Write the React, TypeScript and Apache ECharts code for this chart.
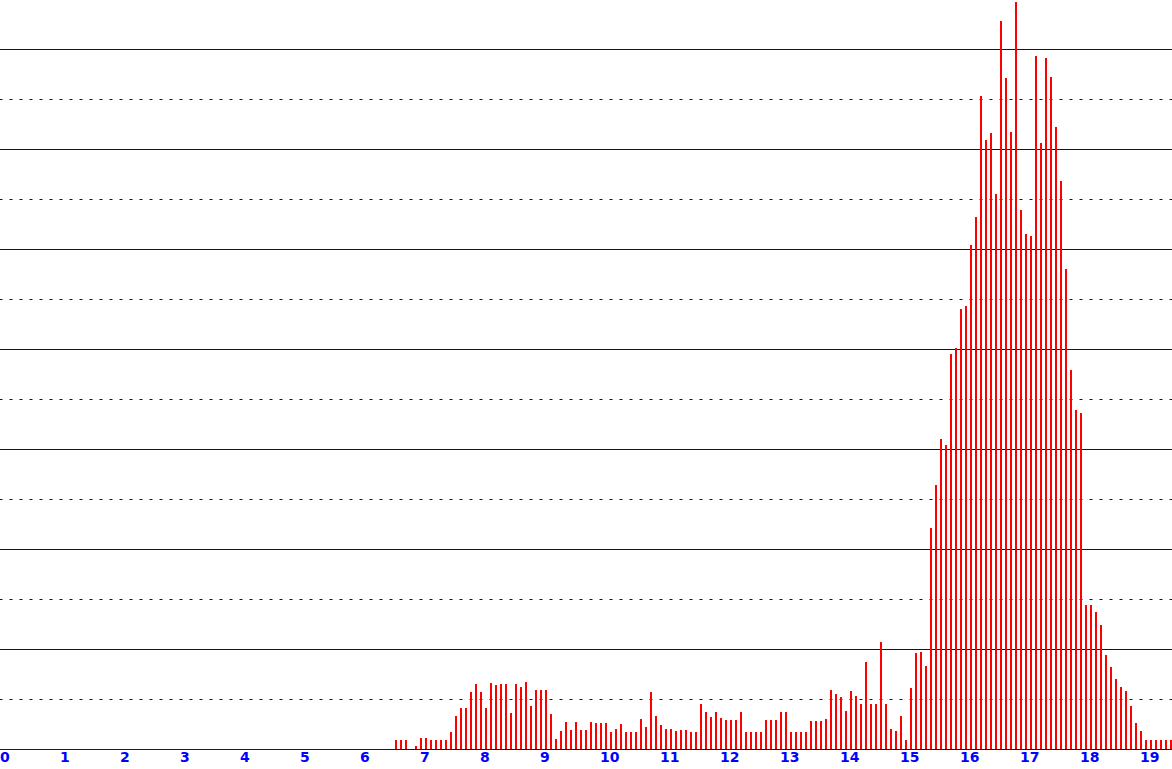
import React, { useEffect, useRef } from "react";
import * as echarts from "echarts";

// Histogram bins: width 1/12, first bin starts at 6.5
const BIN_START = 6.5;
const BIN_WIDTH = 1 / 12;

// Bar heights (one per bin, from 6.5 upward)
const counts: number[] = [
  9, 9, 9, 0, 3, 11, 11, 9, 9, 9, 9, 17,
  33, 41, 41, 57, 65, 57, 41, 66, 64, 65, 65, 36,
  65, 62, 67, 43, 59, 59, 59, 35, 10, 18, 27, 19,
  27, 19, 19, 27, 26, 26, 26, 17, 20, 25, 17, 17,
  17, 30, 22, 57, 33, 24, 20, 20, 18, 19, 19, 17,
  17, 45, 37, 32, 37, 31, 29, 29, 29, 37, 17, 17,
  17, 17, 29, 29, 29, 37, 37, 17, 17, 17, 17, 28,
  28, 28, 30, 59, 55, 52, 38, 58, 53, 45, 87, 45,
  45, 107, 45, 20, 18, 33, 9, 61, 96, 97, 83, 221,
  264, 310, 304, 395, 401, 440, 443, 504, 532, 653, 609, 616,
  555, 728, 671, 617, 747, 539, 515, 513, 693, 606, 691, 672,
  622, 568, 480, 379, 339, 336, 144, 144, 137, 124, 94, 82,
  70, 62, 58, 43, 26, 18, 9, 9, 9, 9, 9, 9,
];

// Tick labels shown along the x axis
const xTickLabels: number[] = [0, 1, 2, 3, 4, 5, 6, 7, 8, 9, 10, 11, 12, 13, 14, 15, 16, 17, 18, 19];

const X_MIN = -1;
const X_MAX = 20;
const Y_MAX = 800;

export default function App() {
  const ref = useRef<HTMLDivElement>(null);

  useEffect(() => {
    if (!ref.current) return;
    const chart = echarts.init(ref.current, undefined, { renderer: "svg" });
    const data = counts.map((c, i) => [BIN_START + (i + 0.5) * BIN_WIDTH, c]);
    chart.setOption({
      animation: false,
      backgroundColor: "#ffffff",
      grid: {
        left: -56.5,
        right: -31.5,
        top: -51,
        bottom: 20,
        containLabel: false,
        outerBoundsMode: "none",
      },
      xAxis: {
        type: "value",
        min: X_MIN,
        max: X_MAX,
        interval: 1,
        axisLine: { show: true, onZero: false, lineStyle: { color: "#0000ff", width: 1 } },
        axisTick: { show: false },
        splitLine: { show: false },
        axisLabel: {
          color: "#0000ff",
          fontFamily: "DejaVu Sans",
          fontSize: 14,
          fontWeight: "bold",
          align: "left",
          padding: [0, 0, 0, -3.5],
          margin: 1,
          formatter: (v: number) => (xTickLabels.indexOf(v) >= 0 ? String(v) : ""),
        },
      },
      yAxis: {
        type: "value",
        min: 0,
        max: Y_MAX,
        interval: 100,
        axisLine: { show: false },
        axisTick: { show: false },
        axisLabel: { show: false },
        splitLine: { show: true, lineStyle: { color: "#0000cc", width: 1, type: "solid" } },
        minorTick: { show: false, splitNumber: 2 },
        minorSplitLine: {
          show: true,
          lineStyle: { color: "#0000cc", width: 1, type: [3, 7], dashOffset: 3.5 },
        },
      },
      series: [
        {
          type: "bar",
          data,
          barWidth: 2,
          itemStyle: { color: "#ff0000" },
          silent: true,
        },
      ],
    });
    return () => chart.dispose();
  }, []);

  return (
    <div
      ref={ref}
      style={{ position: "fixed", left: 0, top: 0, width: 1172, height: 769, background: "#fff" }}
    />
  );
}
